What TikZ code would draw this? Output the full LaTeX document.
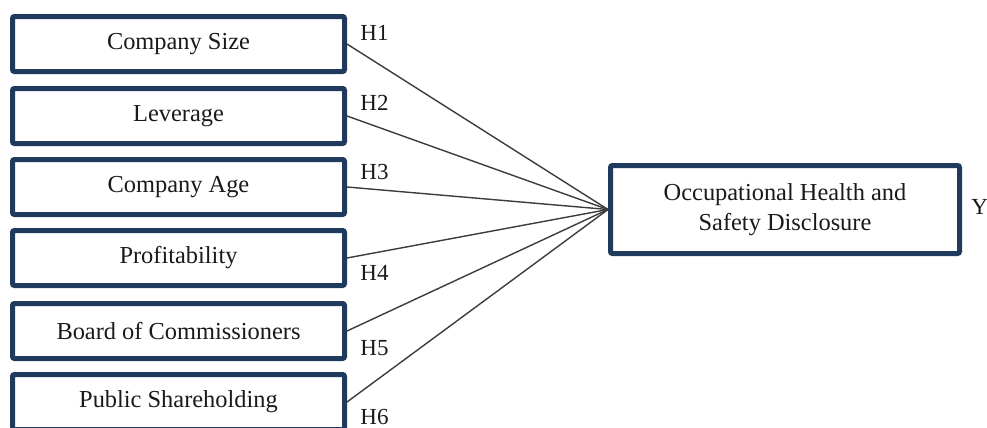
\documentclass[tikz,border=0pt]{standalone}
\usepackage{fontspec}
\setmainfont{Liberation Serif}
\usetikzlibrary{positioning}
\definecolor{Frame}{HTML}{1F3A5C}
\definecolor{Ink}{HTML}{1A1A1A}
\tikzset{
    varbox/.style={rectangle, rounded corners=1pt, draw=Frame, line width=2.5pt, fill=white,
        minimum width=166pt, minimum height=27.5pt, inner sep=0pt, align=center, text=Ink,
        font=\fontsize{12.2}{15}\selectfont},
    depbox/.style={varbox, minimum width=174.5pt, minimum height=44pt},
    hlabel/.style={anchor=west, inner sep=0pt, text=Ink, font=\fontsize{11.5}{13}\selectfont},
    link/.style={line width=0.7pt, color=Ink!85},
}
\begin{document}
\begin{tikzpicture}[x=0.5pt, y=-0.5pt]
    \clip (0,0) rectangle (987,428);
    % Variabili indipendenti
    \node[varbox] (size)   at (178.5,44)  {Company Size};
    \node[varbox] (lev)    at (178.5,116) {Leverage};
    \node[varbox] (age)    at (178.5,187) {Company Age};
    \node[varbox] (prof)   at (178.5,258) {Profitability};
    \node[varbox] (board)  at (178.5,331) {Board of Commissioners};
    \node[varbox] (public) at (178.5,402) {Public Shareholding};

    % Variabile dipendente
    \node[depbox] (ohs) at (785,209.5) {Occupational Health and\\Safety Disclosure};
    \node[hlabel] (y) at (971,207) {Y};

    % Collegamenti
    \foreach \v in {size,lev,age,prof,board,public}
        \draw[link] (\v.east) -- (ohs.west);

    % Ipotesi
    \node[hlabel] (h1) at (360,33)  {H1};
    \node[hlabel] (h2) at (360,103) {H2};
    \node[hlabel] (h3) at (360,172) {H3};
    \node[hlabel] (h4) at (360,273) {H4};
    \node[hlabel] (h5) at (360,348) {H5};
    \node[hlabel] (h6) at (360,417) {H6};
\end{tikzpicture}
\end{document}
